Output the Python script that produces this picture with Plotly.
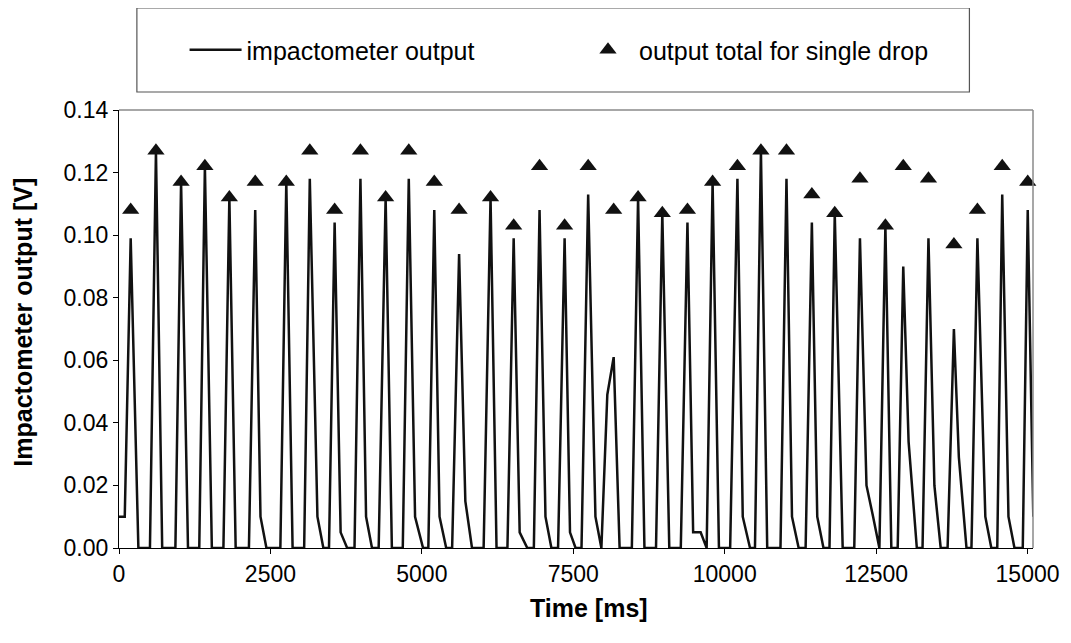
import plotly.graph_objects as go

# impactometer output trace (time in ms, output in V)
time_ms = [
    0, 95, 193, 320,
    511, 610, 713,
    931, 1025, 1139,
    1325, 1418, 1533,
    1724, 1822, 1926,
    2145, 2249, 2336, 2434,
    2664, 2762, 2866,
    3057, 3150, 3276, 3374,
    3467, 3560, 3659, 3767,
    3888, 3986, 4079, 4177,
    4287, 4402, 4505,
    4685, 4784, 4888, 5020,
    5107, 5205, 5292, 5402,
    5500, 5615, 5718, 5828,
    6020, 6134, 6233,
    6413, 6516, 6615, 6741,
    6849, 6943, 7041, 7139,
    7249, 7357, 7446, 7538,
    7636, 7746, 7866, 7964, 8062, 8167, 8265,
    8467, 8570, 8675,
    8866, 8970, 9085,
    9275, 9385, 9479, 9603, 9702, 9800, 9905,
    10090, 10210, 10298, 10418,
    10500, 10598, 10702,
    10921, 11020, 11111, 11221,
    11336, 11439, 11528, 11631,
    11730, 11817, 11948,
    12139, 12233, 12341, 12450, 12554, 12653, 12751,
    12856, 12948, 13036, 13172,
    13266, 13364, 13462, 13566,
    13680, 13784, 13866, 13992,
    14074, 14172, 14303, 14402,
    14500, 14582, 14685, 14784,
    14921, 15003, 15095,
]
output_v = [
    0.010, 0.010, 0.099, 0.0,
    0.0, 0.127, 0.0,
    0.0, 0.117, 0.0,
    0.0, 0.122, 0.0,
    0.0, 0.112, 0.0,
    0.0, 0.108, 0.010, 0.0,
    0.0, 0.117, 0.0,
    0.0, 0.118, 0.010, 0.0,
    0.0, 0.104, 0.005, 0.0,
    0.0, 0.118, 0.010, 0.0,
    0.0, 0.112, 0.0,
    0.0, 0.118, 0.010, 0.0,
    0.0, 0.108, 0.010, 0.0,
    0.0, 0.094, 0.015, 0.0,
    0.0, 0.112, 0.0,
    0.0, 0.099, 0.005, 0.0,
    0.0, 0.108, 0.010, 0.0,
    0.0, 0.099, 0.005, 0.0,
    0.0, 0.113, 0.010, 0.0, 0.049, 0.061, 0.0,
    0.0, 0.112, 0.0,
    0.0, 0.107, 0.0,
    0.0, 0.104, 0.005, 0.005, 0.0, 0.117, 0.0,
    0.0, 0.118, 0.010, 0.0,
    0.0, 0.127, 0.0,
    0.0, 0.118, 0.010, 0.0,
    0.0, 0.104, 0.010, 0.0,
    0.0, 0.107, 0.0,
    0.0, 0.099, 0.020, 0.010, 0.0, 0.103, 0.0,
    0.0, 0.090, 0.034, 0.0,
    0.0, 0.099, 0.020, 0.0,
    0.0, 0.070, 0.029, 0.0,
    0.0, 0.099, 0.010, 0.0,
    0.0, 0.113, 0.010, 0.0,
    0.0, 0.108, 0.010,
]

# output total for single drop (triangles)
drop_time_ms = [
    193, 610, 1025, 1418, 1822, 2249, 2762, 3150, 3560, 3986,
    4402, 4784, 5205, 5615, 6134, 6516, 6943, 7357, 7746, 8167,
    8570, 8970, 9385, 9800, 10210, 10598, 11020, 11439, 11817, 12233,
    12653, 12948, 13364, 13784, 14172, 14582, 15003,
]
drop_total_v = [
    0.108, 0.127, 0.117, 0.122, 0.112, 0.117, 0.117, 0.127, 0.108, 0.127,
    0.112, 0.127, 0.117, 0.108, 0.112, 0.103, 0.122, 0.103, 0.122, 0.108,
    0.112, 0.107, 0.108, 0.117, 0.122, 0.127, 0.127, 0.113, 0.107, 0.118,
    0.103, 0.122, 0.118, 0.097, 0.108, 0.122, 0.117,
]

x_ticks = [0, 2500, 5000, 7500, 10000, 12500, 15000]
y_ticks = [0.00, 0.02, 0.04, 0.06, 0.08, 0.10, 0.12, 0.14]

FONT = "Liberation Sans, Arial, sans-serif"

fig = go.Figure()
fig.add_trace(go.Scatter(
    x=time_ms, y=output_v, mode="lines", name="impactometer output",
    line=dict(color="#111111", width=2.5), cliponaxis=False,
    legend="legend",
))
fig.add_trace(go.Scatter(
    x=drop_time_ms, y=drop_total_v, mode="markers",
    name="output total for single drop",
    marker=dict(symbol="triangle-up", size=15, color="#111111"),
    cliponaxis=False,
    legend="legend2",
))

# page has an 8px body margin; figure is sized so the plot lands at
# page pixels x 119..1039, y 110..548
OFF = 8
W, H = 1071 - OFF, 643 - OFF
PL, PR, PT, PB = 119, 1039, 110, 548   # page pixel box of plot area
L, T = PL - OFF, PT - OFF
R = (W + OFF) - PR
B = (H + OFF) - PB
pw, ph = PR - PL, PB - PT

def px_x(p):
    return (p - PL) / pw

def px_y(p):
    return (PB - p) / ph

legend_common = dict(
    orientation="h", yanchor="middle", xanchor="left",
    bgcolor="rgba(0,0,0,0)", borderwidth=0,
    font=dict(family=FONT, size=25, color="black"),
    itemwidth=52,
)

fig.update_layout(
    width=W, height=H,
    margin=dict(l=L, r=R, t=T, b=B),
    paper_bgcolor="white", plot_bgcolor="white",
    font=dict(family=FONT, size=23, color="black"),
    showlegend=True,
    legend=dict(x=px_x(185), y=px_y(50), **legend_common),
    legend2=dict(x=px_x(580), y=px_y(50), **legend_common),
    xaxis=dict(
        range=[0, 15090], tickmode="array", tickvals=x_ticks,
        tickformat="d",
        showgrid=False, zeroline=False,
        showline=True, linecolor="black", linewidth=1.2,
        ticks="outside", ticklen=5, tickcolor="black",
        tickfont=dict(family=FONT, size=23, color="black"),
    ),
    yaxis=dict(
        range=[0, 0.14], tickmode="array", tickvals=y_ticks,
        tickformat=".2f",
        showgrid=False, zeroline=False,
        showline=True, linecolor="black", linewidth=1.2,
        ticks="outside", ticklen=5, tickcolor="black",
        tickfont=dict(family=FONT, size=23, color="black"),
    ),
    annotations=[
        dict(text="<b>Time [ms]</b>", xref="paper", yref="paper",
             x=px_x(592), y=px_y(608), xanchor="center", yanchor="middle",
             showarrow=False, font=dict(family=FONT, size=25, color="black")),
        dict(text="<b>Impactometer output [V]</b>", xref="paper", yref="paper",
             x=px_x(22), y=px_y(322), xanchor="center", yanchor="middle",
             textangle=-90, showarrow=False,
             font=dict(family=FONT, size=25, color="black")),
    ],
    shapes=[
        dict(type="line", xref="paper", yref="paper", x0=0, x1=1, y0=1, y1=1,
             line=dict(color="#8a8a8a", width=1.5)),
        dict(type="line", xref="paper", yref="paper", x0=1, x1=1, y0=0, y1=1,
             line=dict(color="#8a8a8a", width=1.5)),
        dict(type="rect", xref="paper", yref="paper",
             x0=px_x(137), x1=px_x(975), y0=px_y(92), y1=px_y(8),
             line=dict(color="#555555", width=1.2), fillcolor="rgba(0,0,0,0)"),
    ],
)

fig.write_html("out.html")
